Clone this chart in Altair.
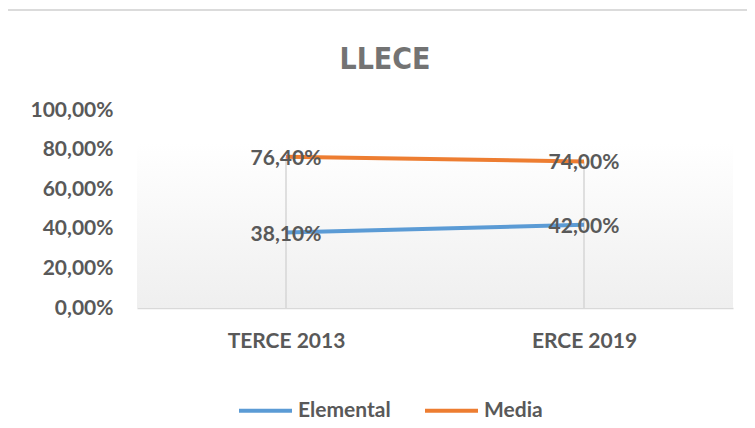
import altair as alt
import pandas as pd

categories = ["TERCE 2013", "ERCE 2019"]
series_names = ["Elemental", "Media"]
elemental = [0.381, 0.42]
media = [0.764, 0.74]
y_ticks = [0, 0.2, 0.4, 0.6, 0.8, 1.0]
colors = ["#5B9BD5", "#ED7D31"]

rows = []
for name, vals in zip(series_names, [elemental, media]):
    for c, v in zip(categories, vals):
        rows.append({"cat": c, "serie": name, "value": v})
df = pd.DataFrame(rows)
drop = pd.DataFrame({"cat": categories, "top": [max(a, b) for a, b in zip(elemental, media)], "base": [0, 0]})

W, H = 596, 198
FONT = "Lato"
GREY = "#595959"

xaxis = alt.Axis(labelFont=FONT, labelFontSize=21, labelFontWeight="bold", labelColor=GREY,
                 labelPadding=22, ticks=False, domainColor="#d9d9d9", domainWidth=1.5,
                 labelAngle=0, grid=False)
xenc = alt.X("cat:N", sort=categories, title=None,
             scale=alt.Scale(type="point", padding=0.5), axis=xaxis)
yscale = alt.Scale(domain=[0, 1])
yaxis = alt.Axis(values=y_ticks, labelExpr="replace(format(datum.value, '.2%'), '.', ',')",
                 labelFont=FONT, labelFontSize=21, labelFontWeight="bold", labelColor=GREY,
                 labelPadding=24, ticks=False, domain=False, grid=False, labelOverlap=False)

# chart frame: only top and left edges visible in the reference
frame_top = alt.Chart(pd.DataFrame({"a": [0]})).mark_rule(color="#cfcfcf", strokeWidth=1.5).encode(
    x=alt.value(-130), x2=alt.value(630), y=alt.value(-100))
frame_left = alt.Chart(pd.DataFrame({"a": [0]})).mark_rule(color="#cfcfcf", strokeWidth=1.5).encode(
    x=alt.value(-130), y=alt.value(-100), y2=alt.value(330))

bg = alt.Chart(pd.DataFrame({"top": [0.83]})).mark_rect(
    color=alt.Gradient(gradient="linear", x1=0, x2=0, y1=0, y2=1,
                       stops=[alt.GradientStop(color="#ffffff", offset=0),
                              alt.GradientStop(color="#efefef", offset=1)])
).encode(x=alt.value(0), x2=alt.value(W), y=alt.Y("top:Q", scale=yscale, axis=yaxis, title=None), y2=alt.datum(0))

rules = alt.Chart(drop).mark_rule(color="#d6d6d6", strokeWidth=1.5).encode(
    x=xenc, y=alt.Y("top:Q", scale=yscale, axis=yaxis, title=None), y2="base:Q")

lines = alt.Chart(df).mark_line(strokeWidth=4).encode(
    x=xenc,
    y=alt.Y("value:Q", scale=yscale, axis=yaxis, title=None),
    color=alt.Color("serie:N", sort=series_names,
                    scale=alt.Scale(domain=series_names, range=colors),
                    legend=alt.Legend(title=None, orient="none", direction="horizontal",
                                      legendX=100, legendY=272, symbolType="stroke",
                                      symbolSize=2809, symbolStrokeWidth=4,
                                      labelFont=FONT, labelFontSize=21, labelFontWeight="bold",
                                      labelColor=GREY, columnPadding=26, labelOffset=4)),
    detail="serie:N")

labels = alt.Chart(df).mark_text(font=FONT, fontSize=21, fontWeight="bold", color=GREY, dy=2).encode(
    x=xenc, y=alt.Y("value:Q", scale=yscale, axis=yaxis, title=None),
    text=alt.Text("label:N")).transform_calculate(
    label="replace(format(datum.value, '.2%'), '.', ',')")

chart = alt.layer(frame_top, frame_left, bg, rules, lines, labels).properties(
    width=W, height=H,
    title=alt.Title("LLECE", font="DejaVu Sans Condensed, Roboto, sans-serif", fontSize=30, fontWeight="bold",
                    color="#737373", anchor="middle", dx=-50, offset=-66, frame="group"),
    autosize=alt.AutoSizeParams(type="none"),
    padding={"left": 129, "top": 102, "right": 14, "bottom": 112},
).configure_view(stroke=None).configure_axis(labelOverlap=False)

chart.save("out.html", embed_options={"renderer": "svg", "actions": False})
